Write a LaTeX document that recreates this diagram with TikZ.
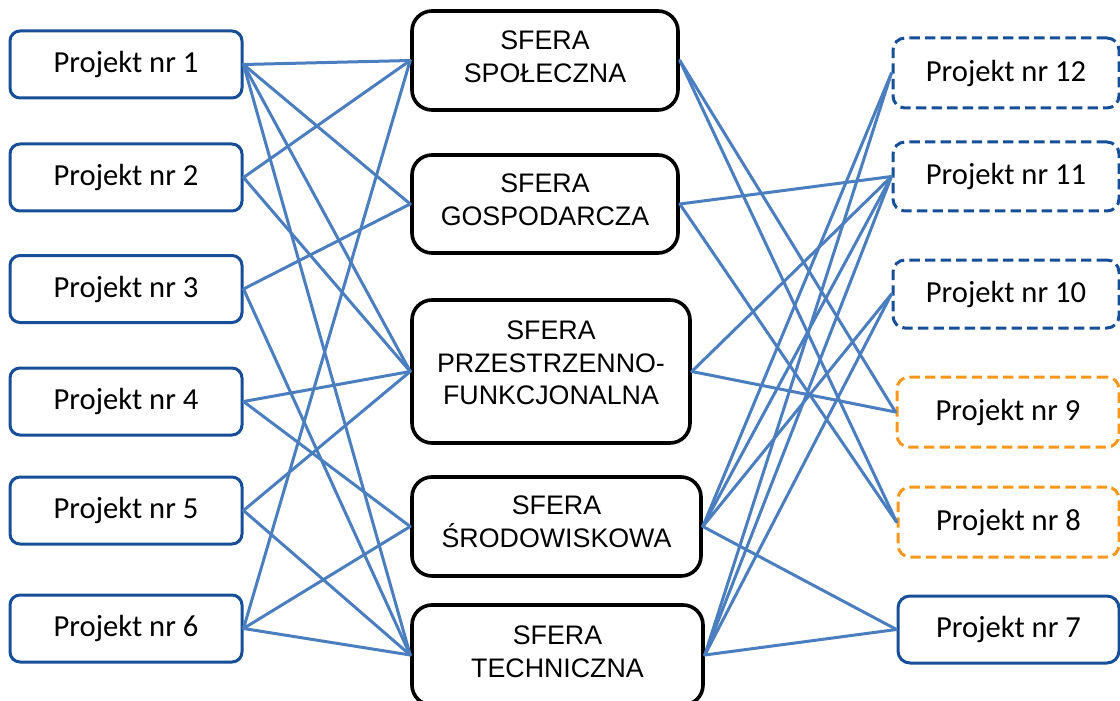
\documentclass[tikz,border=0pt]{standalone}
\usepackage{fontspec}
\setmainfont{Carlito}
\newfontfamily\arialf{Liberation Sans}
\definecolor{boxblue}{RGB}{22,78,152}
\definecolor{linkblue}{RGB}{74,126,190}
\definecolor{orangeb}{RGB}{247,152,28}
\newcommand{\projfont}{\fontsize{15.3pt}{18pt}\selectfont}
\newcommand{\sferafont}{\arialf\fontsize{13.4pt}{16.3pt}\selectfont}
\begin{document}
\begin{tikzpicture}[x=0.5pt,y=-0.5pt,
  proj/.style={draw=boxblue, line width=1.5pt, rounded corners=5pt, minimum width=116pt, minimum height=33.5pt, inner sep=0pt, font=\projfont, fill=white},
  projr/.style={proj, rounded corners=6pt, dash pattern=on 5.2pt off 2.6pt},
  projo/.style={projr, draw=orangeb},
  sfera/.style={draw=black, line width=1.8pt, rounded corners=10pt, inner sep=0pt, fill=white},
  sftext/.style={font=\sferafont, align=center, inner sep=0pt},
  link/.style={draw=linkblue, line width=1.5pt, line cap=round}]
\useasboundingbox (0,0) rectangle (1120,701);
\clip (0,0) rectangle (1120,701);
% left projects
\node[proj] (p1) at (126,64.5) {Projekt nr 1};
\node[proj] (p2) at (126,177.5) {Projekt nr 2};
\node[proj] (p3) at (126,289) {Projekt nr 3};
\node[proj] (p4) at (126,401.5) {Projekt nr 4};
\node[proj] (p5) at (126,510.5) {Projekt nr 5};
\node[proj] (p6) at (126,628.5) {Projekt nr 6};
% spheres
\node[sfera, minimum width=133pt, minimum height=49.5pt, label={[sftext, yshift=1.8pt]center:SFERA\\SPOŁECZNA}] (spo) at (545,60.5) {};
\node[sfera, minimum width=133pt, minimum height=49pt, label={[sftext, yshift=2pt]center:SFERA\\GOSPODARCZA}] (gos) at (545,204) {};
\node[sfera, minimum width=139pt, minimum height=71.5pt, label={[sftext, yshift=4.2pt]center:SFERA\\PRZESTRZENNO-\\FUNKCJONALNA}] (prz) at (551,371.5) {};
\node[sfera, minimum width=144.5pt, minimum height=49.5pt, label={[sftext, yshift=2.5pt]center:SFERA\\ŚRODOWISKOWA}] (sro) at (556.5,526.5) {};
\node[sfera, minimum width=145.5pt, minimum height=50pt, label={[sftext, yshift=1.6pt]center:SFERA\\TECHNICZNA}] (tec) at (557.5,655) {};
% right projects
\node[projr, minimum width=113pt, minimum height=35pt] (p12) at (1006,73) {Projekt nr 12};
\node[projr, minimum width=113pt, minimum height=34.5pt] (p11) at (1006,176.5) {Projekt nr 11};
\node[projr, minimum width=113pt, minimum height=34pt] (p10) at (1006,294) {Projekt nr 10};
\node[projo, minimum width=111pt, minimum height=35pt] (p9) at (1008,412) {Projekt nr 9};
\node[projo, minimum width=110.5pt, minimum height=35pt] (p8) at (1008.5,522) {Projekt nr 8};
\node[proj, rounded corners=6pt, minimum width=110.5pt, minimum height=33.5pt] (p7) at (1008.5,629.5) {Projekt nr 7};
% left connectors
\foreach \a/\b in {p1/spo,p1/gos,p1/prz,p1/tec,p2/spo,p2/prz,p3/gos,p3/tec,p4/prz,p4/sro,p5/prz,p5/tec,p6/spo,p6/sro,p6/tec}
  \draw[link] (\a.east) -- (\b.west);
% right connectors
\foreach \a/\b in {spo/p9,spo/p8,gos/p11,gos/p8,prz/p11,prz/p9,sro/p12,sro/p11,sro/p10,sro/p7,tec/p12,tec/p11,tec/p10,tec/p7}
  \draw[link] (\a.east) -- (\b.west);
\end{tikzpicture}
\end{document}
